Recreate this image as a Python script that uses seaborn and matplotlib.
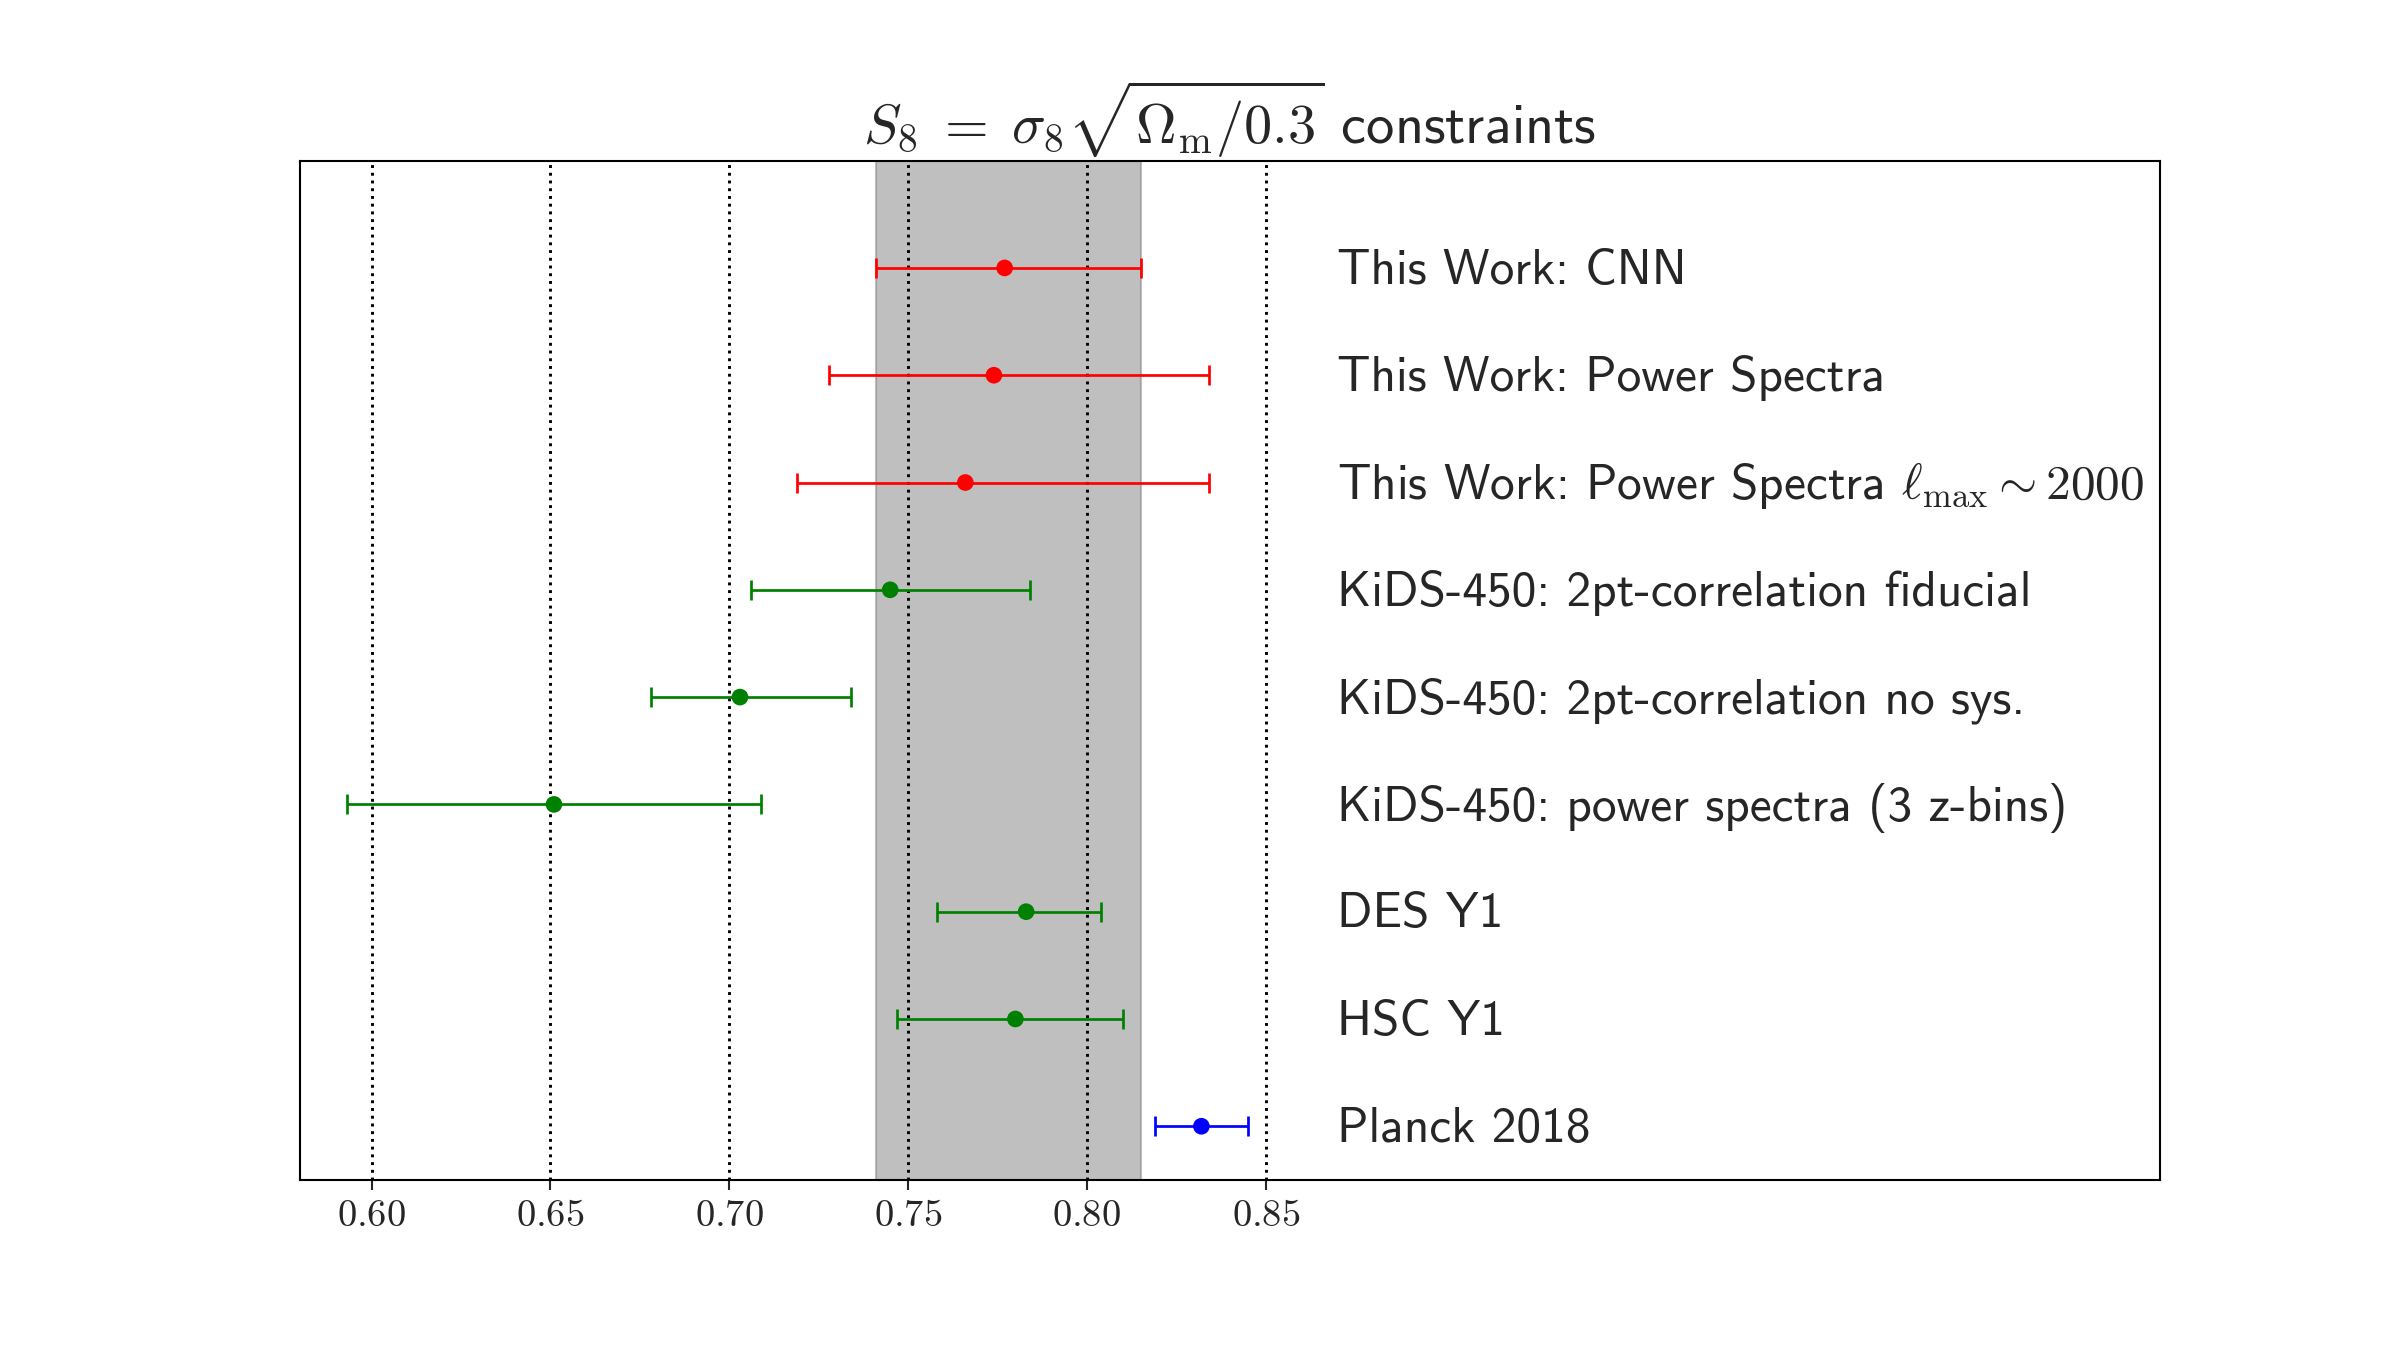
import numpy as np
import matplotlib
matplotlib.use("Agg")
import matplotlib.pyplot as plt
import seaborn as sns
from matplotlib.ticker import FormatStrFormatter

# S8 constraints, top row first
labels = [
    "This Work: CNN",
    "This Work: Power Spectra",
    r"This Work: Power Spectra $\ell_{\rm max} \sim 2000$",
    "KiDS-450: 2pt-correlation fiducial",
    "KiDS-450: 2pt-correlation no sys.",
    "KiDS-450: power spectra (3 z-bins)",
    "DES Y1",
    "HSC Y1",
    "Planck 2018",
]
s8 = [0.777, 0.774, 0.766, 0.745, 0.703, 0.651, 0.783, 0.780, 0.832]
err_lo = [0.036, 0.046, 0.047, 0.039, 0.025, 0.058, 0.025, 0.033, 0.013]
err_hi = [0.038, 0.060, 0.068, 0.039, 0.031, 0.058, 0.021, 0.030, 0.013]
colors = ["r", "r", "r", "g", "g", "g", "g", "g", "b"]
xticks = [0.60, 0.65, 0.70, 0.75, 0.80, 0.85]

sns.set_style("white")
plt.rcParams["mathtext.fontset"] = "cm"
plt.rcParams["font.family"] = ["cmss10", "DejaVu Sans"]
plt.rcParams["axes.formatter.use_mathtext"] = True

fig, ax = plt.subplots(figsize=(16, 9))
fig.subplots_adjust(left=0.125, right=0.9, bottom=0.126, top=0.881)

n = len(labels)
ypos = np.arange(n)[::-1]  # CNN on top, Planck at 0

# grey band = CNN 1-sigma range
ax.axvspan(s8[0] - err_lo[0], s8[0] + err_hi[0], color="gray", alpha=0.5, zorder=0)

for x in xticks:
    ax.axvline(x, color="k", ls=":", lw=1.4, zorder=1)

for i in range(n):
    ax.errorbar(s8[i], ypos[i], xerr=[[err_lo[i]], [err_hi[i]]], fmt="none",
                ecolor=colors[i], elinewidth=1.3, capsize=5, capthick=1.3, zorder=3)
    ax.text(0.87, ypos[i] - 0.03, labels[i], fontsize=23.7, va="center", ha="left")

df_pts = {"s8": s8, "y": ypos, "c": colors}
sns.scatterplot(x="s8", y="y", data=df_pts, hue="c", palette={"r": "r", "g": "g", "b": "b"},
                s=64, edgecolor="none", legend=False, ax=ax, zorder=4)

ax.set_xlim(0.58, 1.10)
ax.set_ylim(-0.5, 9)
ax.set_xticks(xticks)
ax.xaxis.set_major_formatter(FormatStrFormatter(r"$%.2f$"))
ax.set_yticks([])
ax.set_xlabel("")
ax.set_ylabel("")
ax.tick_params(axis="x", bottom=True, direction="out", length=5, width=1, labelsize=18.5, pad=4)
for sp in ax.spines.values():
    sp.set_color("k")
    sp.set_linewidth(1.0)

ax.set_title(r"$S_8\;=\;\sigma_8\sqrt{\Omega_{\rm m}/0.3}$ constraints", fontsize=27, pad=8)

fig.savefig("out.png", dpi=150)
